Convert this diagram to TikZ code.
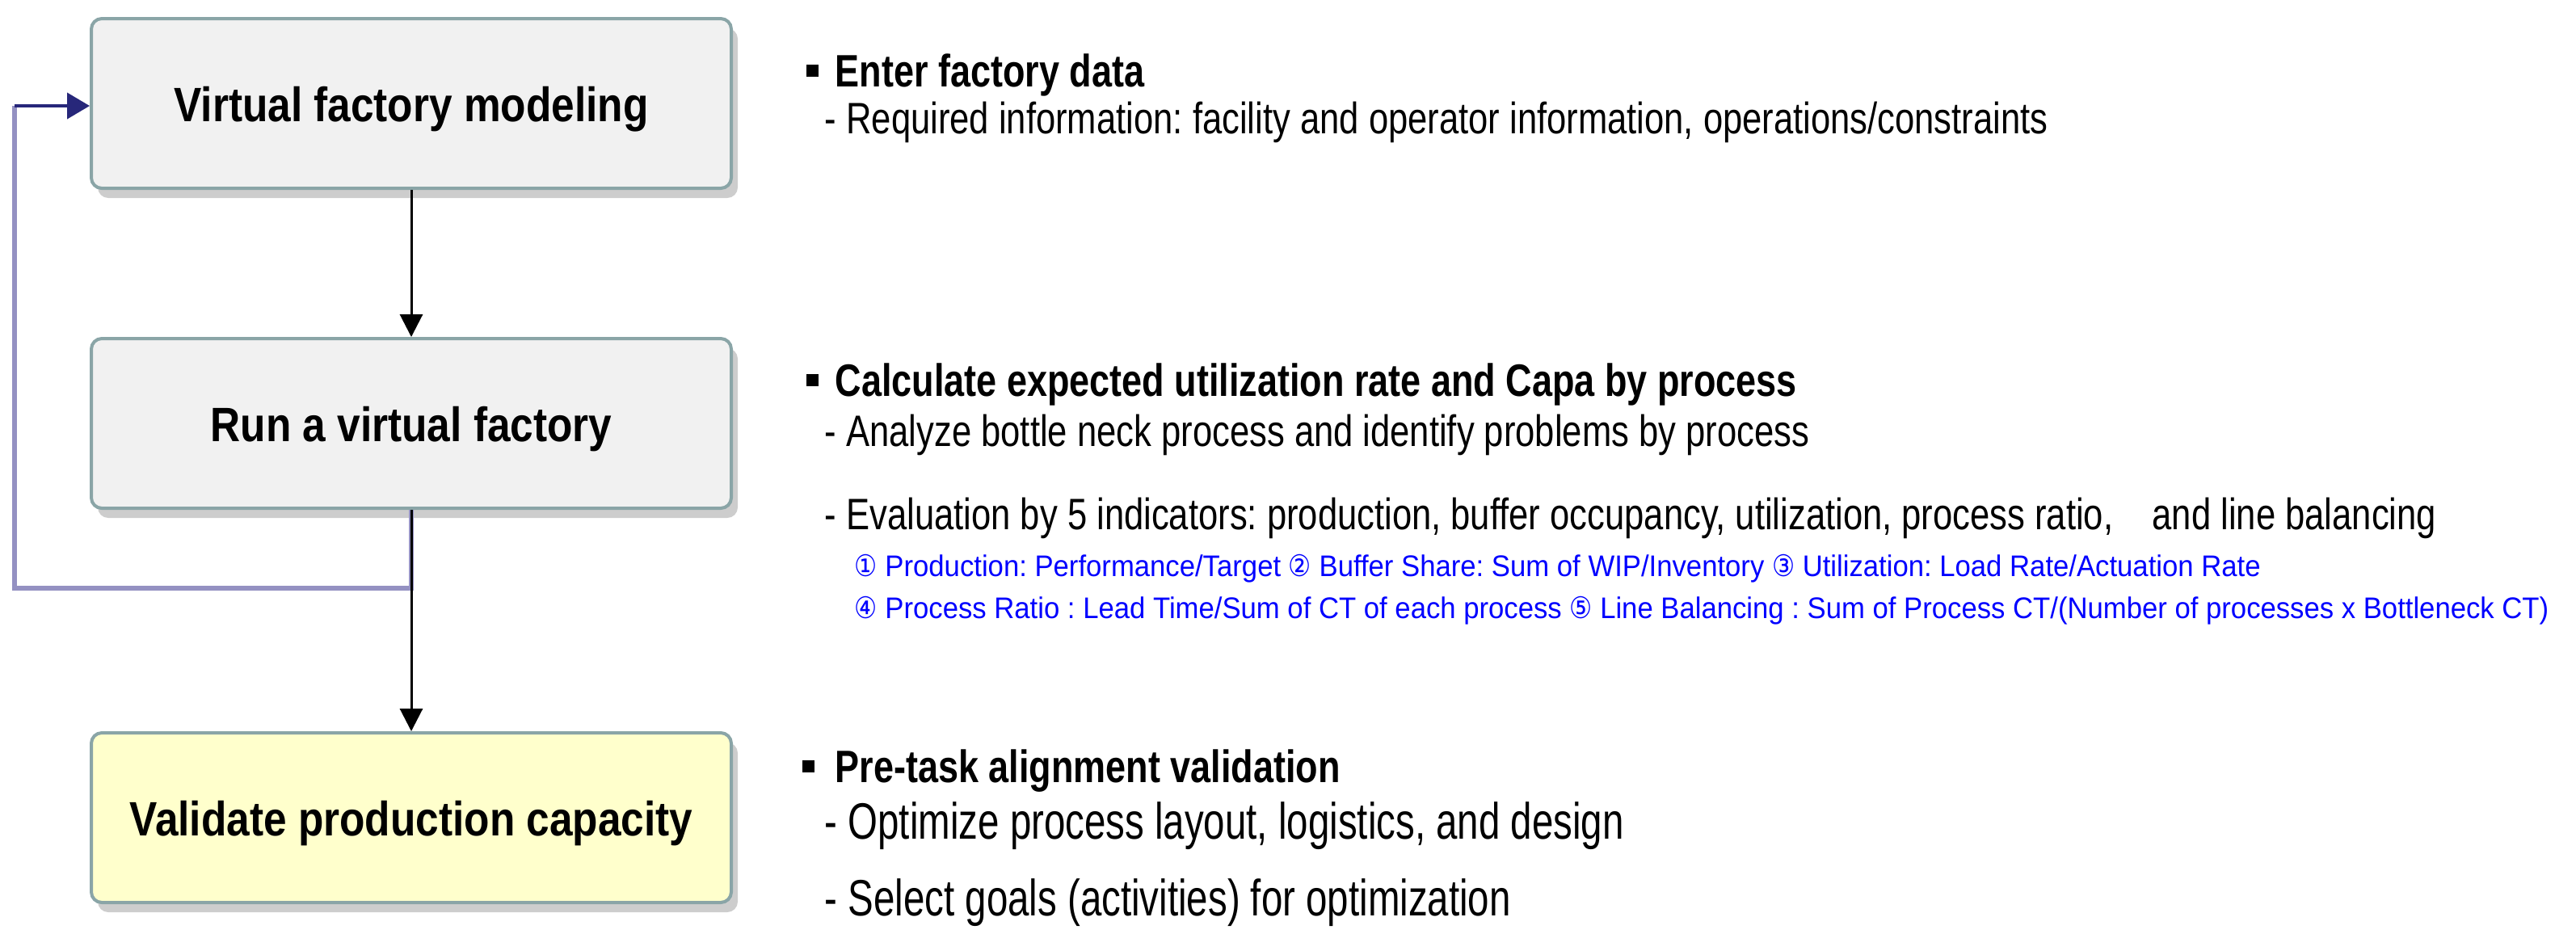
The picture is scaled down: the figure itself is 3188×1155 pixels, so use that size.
\documentclass[tikz,border=0pt]{standalone}
\usepackage{fontspec}
\setmainfont{Liberation Sans}[FakeStretch=0.8]
\newfontfamily\labfont{Liberation Sans}[FakeStretch=0.86]
\newfontfamily\bluefont{Liberation Sans}[FakeStretch=0.94]
\newfontfamily\bigfont{Liberation Sans}[FakeStretch=0.75]
\newfontfamily\symfont{DejaVu Sans}[FakeStretch=0.85]
\usetikzlibrary{arrows.meta,shadows}
\definecolor{boxgray}{HTML}{F1F1F1}
\definecolor{boxyel}{HTML}{FFFFCC}
\definecolor{boxline}{HTML}{8AA5A7}
\definecolor{fbline}{HTML}{9491C2}
\definecolor{fbnavy}{HTML}{27277A}
\definecolor{bluetxt}{HTML}{0000FF}
\newcommand\cnum[1]{{\symfont #1}}
\newcommand\sqbul{\raisebox{1.25mm}{\rule{1.5mm}{1.5mm}}}
\frenchspacing
\tikzset{
  stepbox/.style={draw=boxline, line width=0.4mm, rounded corners=1.3mm,
    minimum width=79.2mm, minimum height=21mm, inner sep=0pt,
    text height=4.4mm, text depth=0mm,
    font=\labfont\bfseries\fontsize{17}{20}\selectfont,
    drop shadow={shadow xshift=0.8mm, shadow yshift=-1.2mm, opacity=0.28, fill=black!70}},
  arr/.style={line width=0.3mm, black, -{Triangle[length=2.8mm,width=2.8mm]}},
  fb/.style={line width=0.6mm, fbline},
  fbarr/.style={line width=0.4mm, fbnavy, -{Triangle[length=2.8mm,width=3.2mm]}},
  txt/.style={anchor=base west, inner sep=0pt, font=\fontsize{15.5}{18}\selectfont},
  bigtxt/.style={anchor=base west, inner sep=0pt, font=\bigfont\fontsize{18}{21}\selectfont},
  head/.style={anchor=base west, inner sep=0pt, font=\bfseries\fontsize{16}{19}\selectfont},
  bul/.style={anchor=base west, inner sep=0pt},
  bluet/.style={anchor=base west, inner sep=0pt, text=bluetxt, font=\bluefont\fontsize{10.5}{12}\selectfont}
}
\begin{document}
\begin{tikzpicture}[x=0.1mm,y=-0.1mm]
\useasboundingbox (0,0) rectangle (3188,1155);
% boxes
\node[stepbox, fill=boxgray] (b1) at (509,128) {Virtual factory modeling};
\node[stepbox, fill=boxgray] (b2) at (509,524) {Run a virtual factory};
\node[stepbox, fill=boxyel] (b3) at (509,1012) {Validate production capacity};
% feedback loop
\coordinate (j) at (509,728);
\coordinate (c1) at (18,728);
\coordinate (c2) at (18,131);
\draw[fb] (b2.south) -- (j) -- (c1) -- (c2);
\draw[fbarr] (c2) -- (c2 -| b1.west);
% main arrows
\draw[arr] (b1.south) -- (b2.north);
\draw[arr] (b2.south) -- (b3.north);
% group 1
\node[bul] (u1) at (997,107) {\sqbul};
\node[head] (h1) at (1033,107) {Enter factory data};
\node[txt] (t11) at (1020,165) {- Required information: facility and operator information, operations/constraints};
% group 2
\node[bul] (u2) at (997,490) {\sqbul};
\node[head] (h2) at (1033,490) {Calculate expected utilization rate and Capa by process};
\node[txt] (t21) at (1020,552) {- Analyze bottle neck process and identify problems by process};
\node[txt] (t22) at (1020,655) {- Evaluation by 5 indicators: production, buffer occupancy, utilization, process ratio,\ \ \ \ and line balancing};
\node[bluet] (t23) at (1057,713) {\cnum{①} Production: Performance/Target \cnum{②} Buffer Share: Sum of WIP/Inventory \cnum{③} Utilization: Load Rate/Actuation Rate};
\node[bluet] (t24) at (1057,765) {\cnum{④} Process Ratio : Lead Time/Sum of CT of each process \cnum{⑤} Line Balancing : Sum of Process CT/(Number of processes x Bottleneck CT)};
% group 3
\node[bul] (u3) at (992,968) {\sqbul};
\node[head] (h3) at (1033,968) {Pre-task alignment validation};
\node[bigtxt] (t31) at (1020,1038) {- Optimize process layout, logistics, and design};
\node[bigtxt] (t32) at (1020,1133) {- Select goals (activities) for optimization};
\end{tikzpicture}
\end{document}
